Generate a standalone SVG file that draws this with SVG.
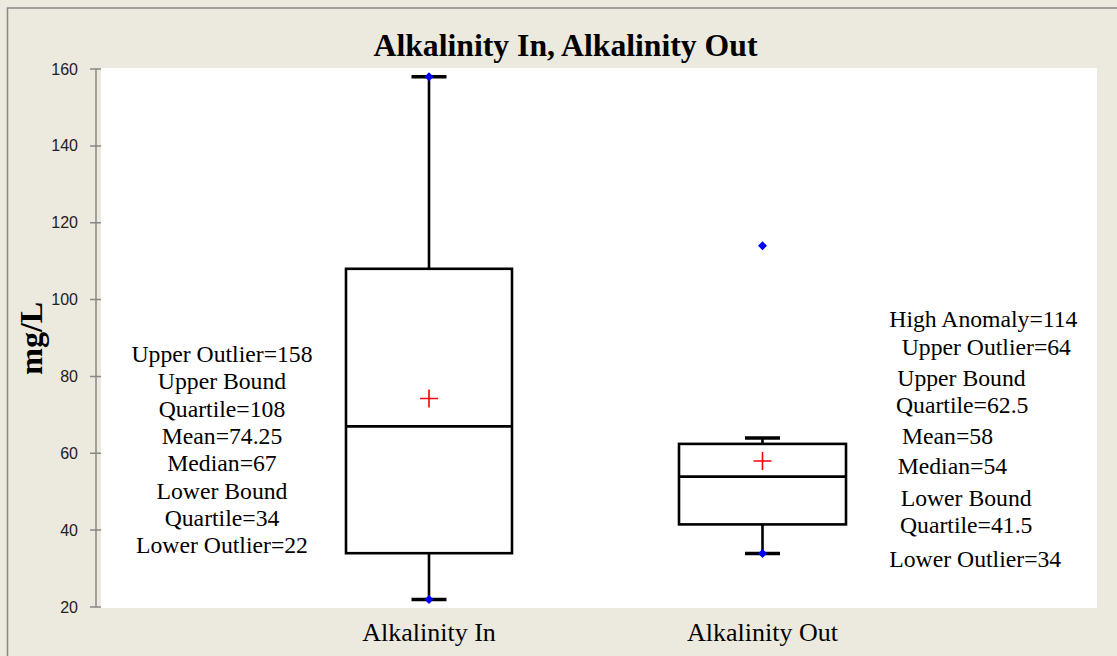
<svg xmlns="http://www.w3.org/2000/svg" width="1117" height="656" viewBox="0 0 1117 656">
<style>
.ann{font-family:"Liberation Serif","Times New Roman",serif;font-size:23.7px;fill:#000}
.mid{text-anchor:middle}
.tick{font-family:"Liberation Sans",Arial,sans-serif;font-size:16px;fill:#222;text-anchor:end}
.axis{stroke:#888;stroke-width:1.5;fill:none}
.box{stroke:#000;stroke-width:2.6;fill:none}
.cap{stroke:#000;stroke-width:3.5}
.pt{fill:#0000ff}
.mean{stroke:#ff0000;stroke-width:1.6}
</style>
<defs>
<path id="dia" d="M0,-4.5 L4.5,0 L0,4.5 L-4.5,0 Z"/>
<path id="cross" d="M-9,0 H9 M0,-9 V9"/>
</defs>
<rect x="0" y="0" width="1117" height="656" fill="#ECE9DF"/>
<path d="M7.5,656 V8 H1117" stroke="#888" stroke-width="1.5" fill="none"/>
<rect x="101" y="68" width="996" height="540" fill="#fff"/>
<text x="565.5" y="56" class="mid" style="font-family:'Liberation Serif','Times New Roman',serif;font-size:31.7px;font-weight:bold">Alkalinity In, Alkalinity Out</text>
<text transform="translate(41.7,338.3) rotate(-90)" class="mid" style="font-family:'Liberation Serif','Times New Roman',serif;font-size:32px;font-weight:bold">mg/L</text>
<g id="yaxis">
<path class="axis" d="M96,69 V607.5 M90,69 H101 M90,145.9 H101 M90,222.7 H101 M90,299.6 H101 M90,376.4 H101 M90,453.3 H101 M90,530.1 H101 M90,607 H101"/>
<text class="tick" x="78" y="74.5">160</text>
<text class="tick" x="78" y="151.4">140</text>
<text class="tick" x="78" y="228.2">120</text>
<text class="tick" x="78" y="305.1">100</text>
<text class="tick" x="78" y="381.9">80</text>
<text class="tick" x="78" y="458.8">60</text>
<text class="tick" x="78" y="535.6">40</text>
<text class="tick" x="78" y="612.5">20</text>
</g>
<g id="connectors">
<path class="box" d="M429,76.7 V268.8 M429,553.2 V599.3"/>
<path class="box" d="M762.5,437.9 V443.9 M762.5,524.4 V553.2"/>
</g>
<g id="box-in">
<rect class="box" x="346" y="268.8" width="166" height="284.4"/>
<path class="box" d="M346,426.4 H512"/>
<path class="cap" d="M411.5,76.7 H446.5 M411.5,599.5 H446.5"/>
<use href="#dia" class="pt" x="429" y="76.7"/>
<use href="#dia" class="pt" x="429" y="599.5"/>
<use href="#cross" class="mean" x="429" y="398.5"/>
</g>
<g id="box-out">
<rect class="box" x="679" y="443.9" width="167" height="80.5"/>
<path class="box" d="M679,476.6 H846"/>
<path class="cap" d="M745,437.9 H780 M745,553.5 H780"/>
<use href="#dia" class="pt" x="762.5" y="553.5"/>
<use href="#dia" class="pt" x="762.5" y="245.8"/>
<use href="#cross" class="mean" x="762.5" y="461"/>
</g>
<g id="labels-in">
<text class="ann mid" x="222" y="361.7">Upper Outlier=158</text>
<text class="ann mid" x="222" y="389">Upper Bound</text>
<text class="ann mid" x="222" y="416.5">Quartile=108</text>
<text class="ann mid" x="222" y="444">Mean=74.25</text>
<text class="ann mid" x="222" y="471">Median=67</text>
<text class="ann mid" x="222" y="498.5">Lower Bound</text>
<text class="ann mid" x="222" y="526">Quartile=34</text>
<text class="ann mid" x="222" y="553.3">Lower Outlier=22</text>
</g>
<g id="labels-out">
<text class="ann" x="889.3" y="327.3">High Anomaly=114</text>
<text class="ann" x="901.7" y="355">Upper Outlier=64</text>
<text class="ann" x="897.3" y="386">Upper Bound</text>
<text class="ann" x="896" y="412.7">Quartile=62.5</text>
<text class="ann" x="902" y="444">Mean=58</text>
<text class="ann" x="897.7" y="474.3">Median=54</text>
<text class="ann" x="900.7" y="506">Lower Bound</text>
<text class="ann" x="900" y="533.3">Quartile=41.5</text>
<text class="ann" x="889.3" y="567.3">Lower Outlier=34</text>
</g>
<g id="xlabels">
<text class="ann mid" x="429" y="641" style="font-size:26px">Alkalinity In</text>
<text class="ann mid" x="762.5" y="641" style="font-size:26px">Alkalinity Out</text>
</g>
</svg>
